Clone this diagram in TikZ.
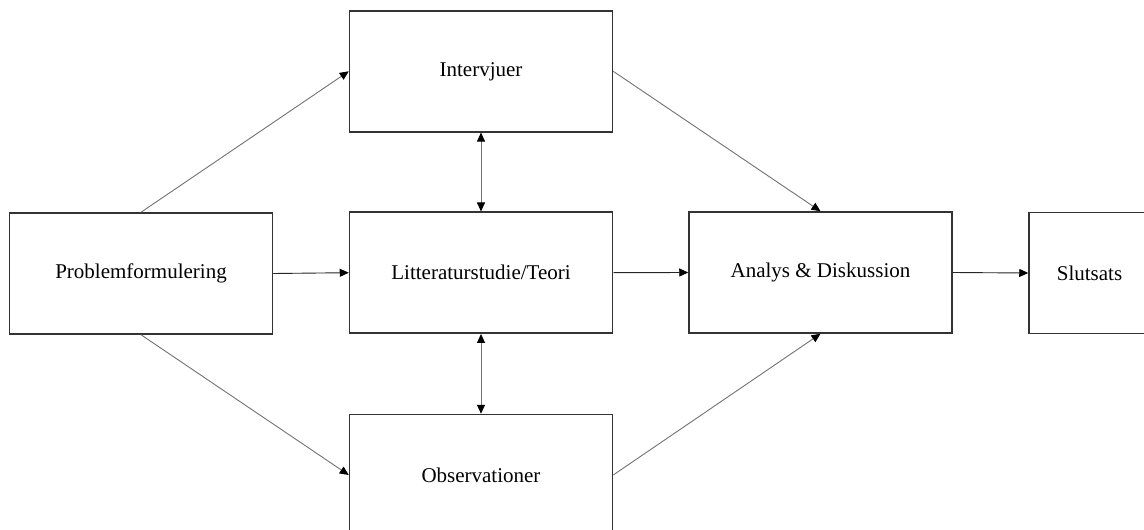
\documentclass[tikz,border=0pt]{standalone}
\usepackage{fontspec}
\setmainfont{Liberation Serif}
\usetikzlibrary{arrows.meta}
\begin{document}
\begin{tikzpicture}[x=1pt,y=-1pt,
  box/.style={draw=black!80, line width=1.5pt, fill=white, inner sep=0pt,
    minimum width=263pt, minimum height=121pt, align=center,
    font=\fontsize{21}{25}\selectfont},
  tip/.style={Triangle[length=9pt,width=8pt,color=black]},
  flow/.style={draw=black!55, line width=0.9pt, -{Triangle[length=9pt,width=8pt,color=black]}},
  hflow/.style={flow, draw=black!85},
  both/.style={draw=black!55, line width=0.9pt,
    {Triangle[length=9pt,width=8pt,color=black]}-{Triangle[length=9pt,width=8pt,color=black]}}]
\clip (0,0) rectangle (1144,530);
\fill[white] (0,0) rectangle (1144,530);

\node[box] (prob) at (141,273.5) {Problemformulering};
\node[box] (int)  at (481,71.3)  {Intervjuer};
\node[box] (lit)  at (481,272.7) {Litteraturstudie/Teori};
\node[box] (obs)  at (481,475)   {Observationer};
\node[box] (ana)  at (820.5,272.5) {Analys \& Diskussion};
\node[box, minimum width=121pt] (slut) at (1089.5,273) {Slutsats};

\draw[flow]  (prob.north) -- (int.west);
\draw[flow]  (prob.south) -- (obs.west);
\draw[hflow] (prob.east)  -- (lit.west);
\draw[both]  (int.south)  -- (lit.north);
\draw[both]  (lit.south)  -- (obs.north);
\draw[flow]  (int.east)   -- (ana.north);
\draw[flow]  (obs.east)   -- (ana.south);
\draw[hflow] (lit.east)   -- (ana.west);
\draw[hflow] (ana.east)   -- (slut.west);
\end{tikzpicture}
\end{document}
